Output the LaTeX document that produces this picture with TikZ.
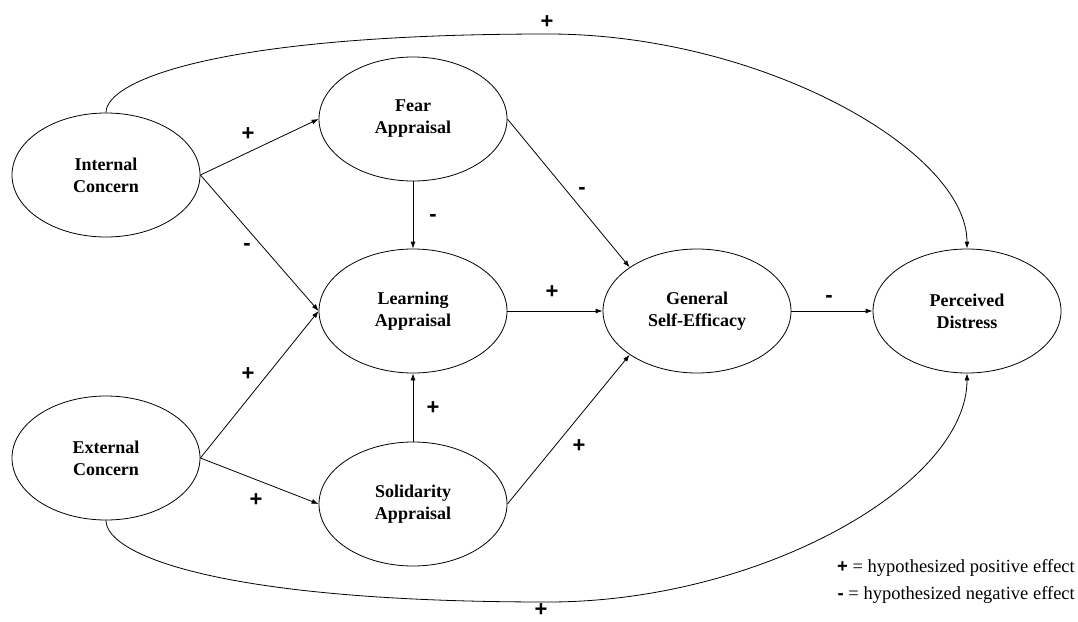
\documentclass[tikz,border=0pt]{standalone}
\usepackage{fontspec}
\setmainfont{Liberation Serif}
\newfontfamily\signfont{Liberation Sans}
\usetikzlibrary{shapes.geometric,arrows.meta}
\begin{document}
\begin{tikzpicture}[x=1pt,y=-1pt,
  latent/.style={draw,ellipse,line width=0.8pt,minimum width=188pt,minimum height=124pt,inner sep=0pt,align=center,font=\fontsize{18}{22}\selectfont\bfseries},
  conn/.style={line width=0.8pt,-{Latex[length=7pt,width=5pt]}},
  sign/.style={font=\signfont\fontsize{22}{22}\selectfont\bfseries,inner sep=0pt},
  legend/.style={font=\fontsize{18.5}{20}\selectfont,anchor=east,inner sep=0pt}]
\useasboundingbox (0,0) rectangle (1078,621);
\node[latent] (IC) at (106,175) {Internal\\Concern};
\node[latent] (EC) at (106,458) {External\\Concern};
\node[latent] (FA) at (413,119) {Fear\\Appraisal};
\node[latent] (LA) at (413,311) {Learning\\Appraisal};
\node[latent] (SA) at (413,504) {Solidarity\\Appraisal};
\node[latent] (GSE) at (697,311) {General\\Self-Efficacy};
\node[latent] (PD) at (967,311) {Perceived\\Distress};

\draw[conn] (IC.east) -- (FA.west);
\draw[conn] (IC.east) -- (LA.west);
\draw[conn] (EC.east) -- (LA.west);
\draw[conn] (EC.east) -- (SA.west);
\draw[conn] (FA.south) -- (LA.north);
\draw[conn] (SA.north) -- (LA.south);
\draw[conn] (FA.east) -- (GSE.147);
\draw[conn] (SA.east) -- (GSE.213);
\draw[conn] (LA.east) -- (GSE.west);
\draw[conn] (GSE.east) -- (PD.west);
\draw[conn] (IC.north) .. controls (106,80) and (220,34) .. (548,34)
  .. controls (760,34) and (967,150) .. (PD.north);
\draw[conn] (EC.south) .. controls (106,555) and (220,602) .. (548,602)
  .. controls (760,602) and (967,485) .. (PD.south);

\node[sign] (s1) at (547,22) {+};
\node[sign] (s2) at (248,134) {+};
\node[sign] (s3) at (247,247) {-};
\node[sign] (s4) at (433,218) {-};
\node[sign] (s5) at (582,191) {-};
\node[sign] (s6) at (552,292) {+};
\node[sign] (s7) at (829,299) {-};
\node[sign] (s8) at (248,374) {+};
\node[sign] (s9) at (433,408) {+};
\node[sign] (s10) at (256,500) {+};
\node[sign] (s11) at (579,446) {+};
\node[sign] (s12) at (541,610) {+};

\node[legend] (L1) at (1075,568) {{\signfont\bfseries +} = hypothesized positive effect};
\node[legend] (L2) at (1075,595) {{\signfont\bfseries -} = hypothesized negative effect};
\end{tikzpicture}
\end{document}
